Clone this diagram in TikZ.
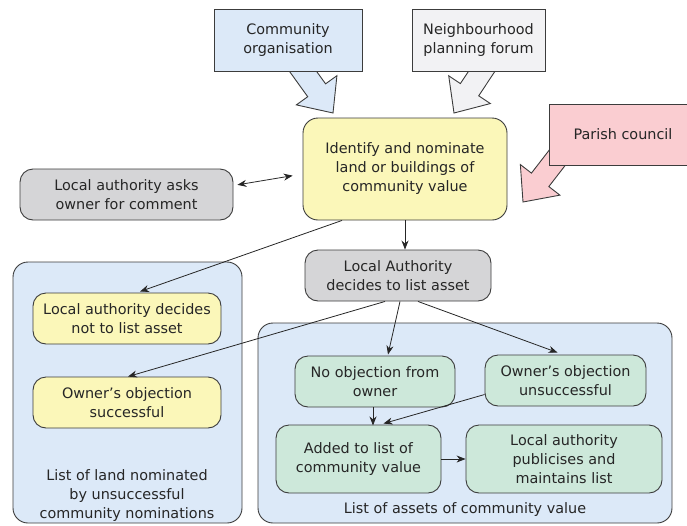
\documentclass[tikz,border=0pt]{standalone}
\usepackage{fontspec}
\setmainfont{DejaVu Sans}
\usepackage{tikz}
\usetikzlibrary{arrows.meta,calc,backgrounds}
\definecolor{skyfill}{HTML}{DCE9F8}
\definecolor{paperfill}{HTML}{F2F2F4}
\definecolor{rosefill}{HTML}{FACDD1}
\definecolor{lemonfill}{HTML}{FBF7B9}
\definecolor{stonefill}{HTML}{D5D5D7}
\definecolor{mintfill}{HTML}{CDE8DA}
\definecolor{boxline}{HTML}{3C3C3C}
\definecolor{inkgrey}{HTML}{262626}
% fat block arrow: fill, start (hidden under its box), tip
\newcommand{\fatarrow}[3]{
  \coordinate (fs) at #2; \coordinate (ft) at #3;
  \coordinate (fb) at ($(ft)!28pt!(fs)$);
  \filldraw[draw=boxline,fill=#1,line width=0.9pt,line join=miter]
    ($(fs)!11pt!90:(ft)$) -- ($(fb)!11pt!90:(ft)$) -- ($(fb)!25pt!90:(ft)$)
    -- (ft) -- ($(fb)!25pt!-90:(ft)$) -- ($(fb)!11pt!-90:(ft)$)
    -- ($(fs)!11pt!-90:(ft)$) -- cycle;
}

\begin{document}
\begin{tikzpicture}[x=1pt,y=-1pt,
    every node/.style={font=\fontsize{14.4}{19}\selectfont,text=inkgrey,align=center},
    box/.style={draw=boxline,line width=0.9pt,rounded corners=13pt,inner sep=0pt},
    sq/.style={draw=boxline,line width=0.9pt,inner sep=0pt},
    panel/.style={draw=boxline,line width=0.9pt,fill=skyfill,rounded corners=15pt,inner sep=0pt},
    link/.style={-{Stealth[length=9pt,width=7pt]},line width=0.8pt,draw=black!85}]
  \clip (0,0) rectangle (687,525);

  % the three nominating bodies
  \node[sq,fill=skyfill,minimum width=148pt,minimum height=62pt] (comorg) at (288,40)
       {Community\\organisation};
  \node[sq,fill=paperfill,minimum width=133pt,minimum height=62pt] (forum) at (478.5,40)
       {Neighbourhood\\planning forum};
  \node[sq,fill=rosefill,minimum width=148pt,minimum height=61pt] (parish) at (623,134.5)
       {Parish council};

  \node[box,fill=lemonfill,minimum width=204pt,minimum height=102pt,rounded corners=15pt]
       (nominate) at (405,169) {Identify and nominate\\land or buildings of\\community value};
  \node[box,fill=stonefill,minimum width=213pt,minimum height=51pt] (asks) at (126.5,194.5)
       {Local authority asks\\owner for comment};
  \node[box,fill=stonefill,minimum width=186pt,minimum height=51pt] (decides) at (398,275.5)
       {Local Authority\\decides to list asset};

  % left panel: unsuccessful nominations
  \node[panel,minimum width=229pt,minimum height=261pt] (leftlist) at (127.5,392.5) {};
  \node[box,fill=lemonfill,minimum width=188pt,minimum height=51pt] (notlisted) at (127,318.5)
       {Local authority decides\\not to list asset};
  \node[box,fill=lemonfill,minimum width=188pt,minimum height=51pt] (objok) at (127,402.5)
       {Owner's objection\\successful};
  \node (leftcap) at (127,496) {List of land nominated\\by unsuccessful\\community nominations};

  % right panel: assets of community value
  \node[panel,minimum width=414pt,minimum height=200pt] (rightlist) at (465,423) {};
  \node[box,fill=mintfill,minimum width=160pt,minimum height=51pt] (noobj) at (375,381.5)
       {No objection from\\owner};
  \node[box,fill=mintfill,minimum width=161pt,minimum height=51pt] (objfail) at (565.5,380.5)
       {Owner's objection\\unsuccessful};
  \node[box,fill=mintfill,minimum width=165pt,minimum height=68pt] (added) at (358.5,459)
       {Added to list of\\community value};
  \node[box,fill=mintfill,minimum width=196pt,minimum height=68pt] (publish) at (564,459)
       {Local authority\\publicises and\\maintains list};
  \node (rightcap) at (465,510) {List of assets of community value};

  \begin{scope}[on background layer]
    \fatarrow{skyfill}{($(comorg.south)+(5,-14)$)}{(333,113)}
    \fatarrow{paperfill}{($(forum.south)+(12.5,-14)$)}{(454,113)}
    \fatarrow{rosefill}{($(parish.west)+(22,6)$)}{(523,202)}
  \end{scope}

  \draw[link] (nominate.south) -- (nominate.south |- decides.north);
  \draw[link,{Stealth[length=9pt,width=7pt]}-{Stealth[length=9pt,width=7pt]},
        shorten <=4pt,shorten >=10pt] ($(asks.east)+(0,-9)$) -- ($(nominate.west)+(0,5)$);
  \draw[link] ($(nominate.south)+(-63,0)$) -- ($(notlisted.north)+(13,-1)$);
  \draw[link] ($(decides.south)+(-13,0)$) -- ($(objok.north)+(1,0)$);
  \draw[link] ($(decides.south)+(2,0)$) -- ($(noobj.north)+(13,-1)$);
  \draw[link] ($(decides.south)+(20,0)$) -- ($(objfail.north)+(-8,-2)$);
  \draw[link] (noobj.south -| added.north) ++(14.5,0) -- ++(0,18);
  \draw[link] ($(objfail.west)+(0,14)$) -- ($(added.north)+(25,-1)$);
  \draw[link] (added.east) -- (publish.west);
\end{tikzpicture}
\end{document}
